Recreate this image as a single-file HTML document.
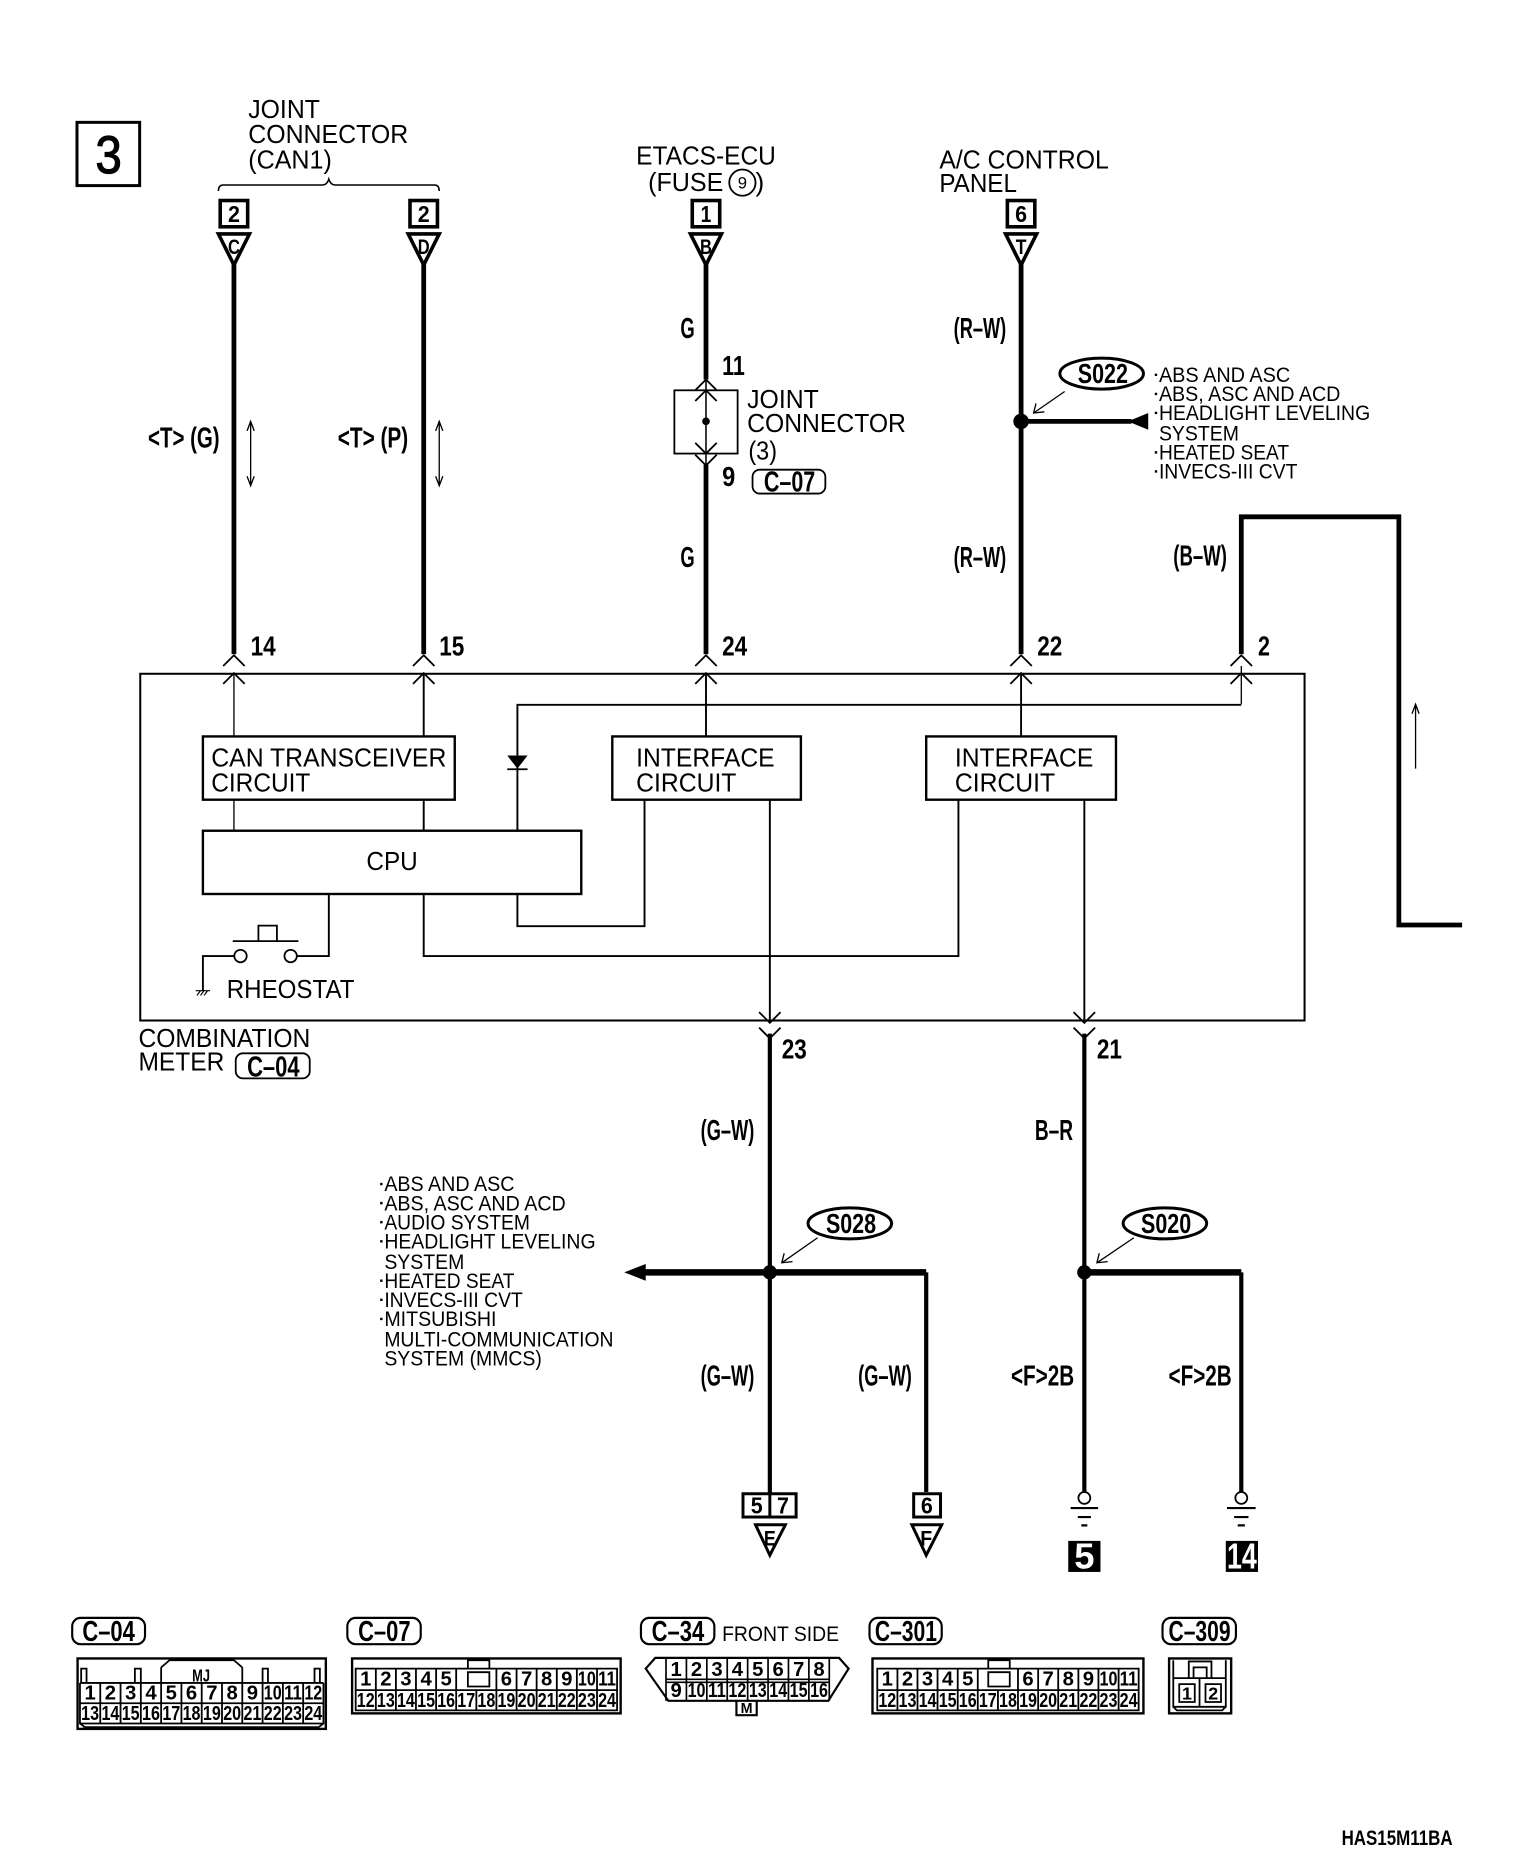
<!DOCTYPE html>
<html><head><meta charset="utf-8"><style>
html,body{margin:0;padding:0;background:#fff}
svg{display:block}
text{font-family:"Liberation Sans",sans-serif;fill:#000}
.r{font-size:22px}
.l{font-size:18px}
.b{font-size:24px;font-weight:bold}
.p{font-size:23px;font-weight:bold}
.n{font-size:18px;font-weight:bold;text-anchor:middle}
.m{font-size:19px;font-weight:bold;text-anchor:middle}
.s{fill:none;stroke:#000}
</style></head><body>
<svg xmlns="http://www.w3.org/2000/svg" width="1520" height="1872" viewBox="0 0 1273.5 1568.4">
<rect width="1280" height="1576" fill="#fff"/>
<rect class="s" x="64.5" y="102.5" width="52.5" height="53" stroke-width="2.5"/>
<text x="91" y="145" font-size="44" text-anchor="middle" textLength="22" lengthAdjust="spacingAndGlyphs" stroke="#000" stroke-width="1">3</text>

<text class="r" x="208" y="99" textLength="60" lengthAdjust="spacingAndGlyphs">JOINT</text>
<text class="r" x="208" y="120" textLength="134" lengthAdjust="spacingAndGlyphs">CONNECTOR</text>
<text class="r" x="208" y="141" textLength="70" lengthAdjust="spacingAndGlyphs">(CAN1)</text>
<path class="s" stroke-width="1.3" d="M183 160Q183 155 187 155H270Q274 155 275.500 150Q277 155 281 155H364Q368 155 368 160"/>

<text class="r" x="533" y="138" textLength="117" lengthAdjust="spacingAndGlyphs">ETACS-ECU</text>
<text class="r" x="543" y="160" textLength="63" lengthAdjust="spacingAndGlyphs">(FUSE</text>
<circle class="s" cx="622" cy="153" r="11" stroke-width="1.5"/>
<text x="622" y="158" font-size="14" text-anchor="middle">9</text>
<text class="r" x="633" y="160">)</text>
<text class="r" x="787" y="141" textLength="142" lengthAdjust="spacingAndGlyphs">A/C CONTROL</text>
<text class="r" x="787" y="161" textLength="65" lengthAdjust="spacingAndGlyphs">PANEL</text>

<!-- top connectors -->
<g class="s" stroke-width="3" fill="none" stroke="#000">
<rect x="184.500" y="168" width="23" height="22"/><rect x="343.500" y="168" width="23" height="22"/>
<rect x="580" y="168" width="23" height="22"/><rect x="844" y="168" width="23" height="22"/>
<path d="M183 196H209L196 222ZM342 196H368L355 222ZM578.500 196H604.500L591.500 222ZM842.500 196H868.500L855.500 222Z"/>
</g>
<text class="m" x="196" y="186" textLength="10" lengthAdjust="spacingAndGlyphs">2</text>
<text class="m" x="355" y="186" textLength="10" lengthAdjust="spacingAndGlyphs">2</text>
<text class="m" x="591.500" y="186" textLength="9" lengthAdjust="spacingAndGlyphs">1</text>
<text class="m" x="855.500" y="186" textLength="10" lengthAdjust="spacingAndGlyphs">6</text>
<text class="n" x="196" y="213" textLength="10" lengthAdjust="spacingAndGlyphs">C</text>
<text class="n" x="355" y="213" textLength="10" lengthAdjust="spacingAndGlyphs">D</text>
<text class="n" x="591.500" y="213" textLength="10" lengthAdjust="spacingAndGlyphs">B</text>
<text class="n" x="855.500" y="213" textLength="9" lengthAdjust="spacingAndGlyphs">T</text>

<!-- thick wires -->
<path class="s" stroke-width="4" d="M196 220V548M355 220V548M591.500 220V318M591.500 388V548M855.500 220V548M1040 548V433H1172V775H1225"/>
<path class="s" stroke-width="3.500" d="M645 866V1251M908.500 866V1250M776 1066V1250M1040 1066V1250"/>
<path class="s" stroke-width="5.500" d="M535 1066H776M908.500 1066H1040"/>
<path class="s" stroke-width="4" d="M855.500 353H948"/>
<path d="M945 353L962 346V360ZM523 1066L541 1059V1073Z"/>
<circle cx="855.500" cy="353" r="6.500"/><circle cx="645" cy="1066" r="6"/><circle cx="908.500" cy="1066" r="6"/>

<!-- chevrons -->
<path class="s" stroke-width="1.500" d="M187 558L196 549L205 558M187 573L196 564L205 573M346 558L355 549L364 558M346 573L355 564L364 573M582.500 558L591.500 549L600.500 558M582.500 573L591.500 564L600.500 573M846.500 558L855.500 549L864.500 558M846.500 573L855.500 564L864.500 573M1031 558L1040 549L1049 558M1031 573L1040 564L1049 573M636 848L645 857L654 848M636 861L645 870L654 861M899.500 848L908.500 857L917.500 848M899.500 861L908.500 870L917.500 861M582.500 327L591.500 318L600.500 327M582.500 336L591.500 327L600.500 336M582.500 371L591.500 380L600.500 371M582.500 381L591.500 390L600.500 381"/>

<!-- pin labels -->
<text class="p" x="210" y="549" textLength="21" lengthAdjust="spacingAndGlyphs">14</text>
<text class="p" x="368" y="549" textLength="21" lengthAdjust="spacingAndGlyphs">15</text>
<text class="p" x="605" y="549" textLength="21" lengthAdjust="spacingAndGlyphs">24</text>
<text class="p" x="869" y="549" textLength="21" lengthAdjust="spacingAndGlyphs">22</text>
<text class="p" x="1054" y="549" textLength="10" lengthAdjust="spacingAndGlyphs">2</text>
<text class="p" x="655" y="887" textLength="21" lengthAdjust="spacingAndGlyphs">23</text>
<text class="p" x="919" y="887" textLength="21" lengthAdjust="spacingAndGlyphs">21</text>
<text class="p" x="605" y="314" textLength="19" lengthAdjust="spacingAndGlyphs">11</text>
<text class="p" x="605" y="407" textLength="11" lengthAdjust="spacingAndGlyphs">9</text>

<!-- wire labels -->
<text class="b" x="124" y="375" textLength="60" lengthAdjust="spacingAndGlyphs">&lt;T&gt; (G)</text>
<text class="b" x="283" y="375" textLength="59" lengthAdjust="spacingAndGlyphs">&lt;T&gt; (P)</text>
<text class="b" x="570" y="283" textLength="12" lengthAdjust="spacingAndGlyphs">G</text>
<text class="b" x="570" y="475" textLength="12" lengthAdjust="spacingAndGlyphs">G</text>
<text class="b" x="799" y="283" textLength="44" lengthAdjust="spacingAndGlyphs">(R–W)</text>
<text class="b" x="799" y="475" textLength="44" lengthAdjust="spacingAndGlyphs">(R–W)</text>
<text class="b" x="983" y="474" textLength="45" lengthAdjust="spacingAndGlyphs">(B–W)</text>
<text class="b" x="587" y="955" textLength="45" lengthAdjust="spacingAndGlyphs">(G–W)</text>
<text class="b" x="867" y="955" textLength="32" lengthAdjust="spacingAndGlyphs">B–R</text>
<text class="b" x="587" y="1161" textLength="45" lengthAdjust="spacingAndGlyphs">(G–W)</text>
<text class="b" x="719" y="1161" textLength="45" lengthAdjust="spacingAndGlyphs">(G–W)</text>
<text class="b" x="847" y="1161" textLength="53" lengthAdjust="spacingAndGlyphs">&lt;F&gt;2B</text>
<text class="b" x="979" y="1161" textLength="53" lengthAdjust="spacingAndGlyphs">&lt;F&gt;2B</text>

<!-- small signal arrows -->
<path class="s" stroke-width="1.100" d="M210 353V407M207 361L210 353L213 361M207 399L210 407L213 399M368 353V407M365 361L368 353L371 361M365 399L368 407L371 399M1186 590V644M1183 598L1186 590L1189 598"/>

<!-- joint connector 3 -->
<rect class="s" x="565" y="327" width="53" height="53" stroke-width="1.500"/>
<path class="s" stroke-width="1.300" d="M591.500 318V388"/>
<circle cx="591.500" cy="353" r="3.200"/>
<text class="r" x="626" y="342" textLength="60" lengthAdjust="spacingAndGlyphs">JOINT</text>
<text class="r" x="626" y="362" textLength="133" lengthAdjust="spacingAndGlyphs">CONNECTOR</text>
<text class="r" x="627" y="385" textLength="24" lengthAdjust="spacingAndGlyphs">(3)</text>
<rect class="s" x="630.500" y="393.500" width="61" height="20" rx="6" stroke-width="1.500"/>
<text class="b" x="640" y="412" textLength="43" lengthAdjust="spacingAndGlyphs">C–07</text>

<!-- splice S022 -->
<ellipse class="s" cx="923" cy="313" rx="35" ry="13" stroke-width="2.500"/>
<text class="p" x="903" y="321" textLength="42" lengthAdjust="spacingAndGlyphs">S022</text>
<path class="s" stroke-width="1.100" d="M892 328L866 346M868 338L866 346L875 345"/>
<g class="l">
<text x="971" y="320" textLength="110" lengthAdjust="spacingAndGlyphs">ABS AND ASC</text>
<text x="971" y="336" textLength="152" lengthAdjust="spacingAndGlyphs">ABS, ASC AND ACD</text>
<text x="971" y="352" textLength="177" lengthAdjust="spacingAndGlyphs">HEADLIGHT LEVELING</text>
<text x="971" y="369" textLength="67" lengthAdjust="spacingAndGlyphs">SYSTEM</text>
<text x="971" y="385" textLength="109" lengthAdjust="spacingAndGlyphs">HEATED SEAT</text>
<text x="971" y="401" textLength="116" lengthAdjust="spacingAndGlyphs">INVECS-III CVT</text>
</g>
<path d="M967.500 313h2v2h-2zM967.500 329h2v2h-2zM967.500 345h2v2h-2zM967.500 378h2v2h-2zM967.500 394h2v2h-2z"/>

<!-- main box -->
<rect class="s" x="117.500" y="564.500" width="975.500" height="290.500" stroke-width="1.700"/>
<path class="s" stroke-width="1.100" d="M196 564V617M196 670V696M1040 558V590"/>
<path class="s" stroke-width="1.600" d="M355 564V617M355 670V696M591.500 564V617M855.500 564V617M1040 590.500H433.500V696M433.500 749V776H540V670M355 749V801H803V670M645 670V855M908.500 670V855M275.500 749V801H249M196 801H170V830"/>
<path d="M425 633H442L433.500 644Z"/>
<path class="s" stroke-width="1.500" d="M425 644.500H442"/>
<g class="s" stroke-width="2" fill="#fff" stroke="#000">
<rect x="170" y="617" width="211" height="53"/>
<rect x="513" y="617" width="158" height="53"/>
<rect x="776" y="617" width="159" height="53"/>
<rect x="170" y="696" width="317" height="53"/>
</g>
<text class="r" x="177" y="642" textLength="197" lengthAdjust="spacingAndGlyphs">CAN TRANSCEIVER</text>
<text class="r" x="177" y="663" textLength="83" lengthAdjust="spacingAndGlyphs">CIRCUIT</text>
<text class="r" x="533" y="642" textLength="116" lengthAdjust="spacingAndGlyphs">INTERFACE</text>
<text class="r" x="533" y="663" textLength="84" lengthAdjust="spacingAndGlyphs">CIRCUIT</text>
<text class="r" x="800" y="642" textLength="116" lengthAdjust="spacingAndGlyphs">INTERFACE</text>
<text class="r" x="800" y="663" textLength="84" lengthAdjust="spacingAndGlyphs">CIRCUIT</text>
<text class="r" x="307" y="729" textLength="43" lengthAdjust="spacingAndGlyphs">CPU</text>

<!-- rheostat -->
<circle class="s" cx="201.500" cy="801" r="5.200" stroke-width="1.500"/>
<circle class="s" cx="243.500" cy="801" r="5.200" stroke-width="1.500"/>
<path class="s" stroke-width="1.500" d="M195 788.500H250M216.500 788V775.500H232V788"/>
<path class="s" stroke-width="1" d="M164 830H176M165 834L168 830M168 834L171 830M171 834L174 830"/>
<text class="r" x="190" y="836" textLength="107" lengthAdjust="spacingAndGlyphs">RHEOSTAT</text>

<text class="r" x="116" y="877" textLength="144" lengthAdjust="spacingAndGlyphs">COMBINATION</text>
<text class="r" x="116" y="897" textLength="72" lengthAdjust="spacingAndGlyphs">METER</text>
<rect class="s" x="197.500" y="882.500" width="62" height="21" rx="6" stroke-width="1.500"/>
<text class="b" x="207" y="902" textLength="44" lengthAdjust="spacingAndGlyphs">C–04</text>

<!-- splices lower -->
<ellipse class="s" cx="712" cy="1025" rx="35" ry="13" stroke-width="2.500"/>
<text class="p" x="692" y="1033" textLength="42" lengthAdjust="spacingAndGlyphs">S028</text>
<ellipse class="s" cx="976" cy="1025" rx="35" ry="13" stroke-width="2.500"/>
<text class="p" x="956" y="1033" textLength="42" lengthAdjust="spacingAndGlyphs">S020</text>
<path class="s" stroke-width="1.100" d="M685 1037L655 1058M657 1050L655 1058L664 1057M950 1037L919 1058M921 1050L919 1058L928 1057"/>
<g class="l">
<text x="322" y="998" textLength="109" lengthAdjust="spacingAndGlyphs">ABS AND ASC</text>
<text x="322" y="1014" textLength="152" lengthAdjust="spacingAndGlyphs">ABS, ASC AND ACD</text>
<text x="322" y="1030" textLength="122" lengthAdjust="spacingAndGlyphs">AUDIO SYSTEM</text>
<text x="322" y="1046" textLength="177" lengthAdjust="spacingAndGlyphs">HEADLIGHT LEVELING</text>
<text x="322" y="1063" textLength="67" lengthAdjust="spacingAndGlyphs">SYSTEM</text>
<text x="322" y="1079" textLength="109" lengthAdjust="spacingAndGlyphs">HEATED SEAT</text>
<text x="322" y="1095" textLength="116" lengthAdjust="spacingAndGlyphs">INVECS-III CVT</text>
<text x="322" y="1111" textLength="94" lengthAdjust="spacingAndGlyphs">MITSUBISHI</text>
<text x="322" y="1128" textLength="192" lengthAdjust="spacingAndGlyphs">MULTI-COMMUNICATION</text>
<text x="322" y="1144" textLength="132" lengthAdjust="spacingAndGlyphs">SYSTEM (MMCS)</text>
</g>
<path d="M318.500 991h2v2h-2zM318.500 1007h2v2h-2zM318.500 1023h2v2h-2zM318.500 1039h2v2h-2zM318.500 1072h2v2h-2zM318.500 1088h2v2h-2zM318.500 1104h2v2h-2z"/>

<!-- bottom terminals -->
<g class="s" stroke-width="2.500" fill="none" stroke="#000">
<rect x="622.500" y="1251.500" width="44.500" height="19.500"/>
<path d="M645 1251V1271"/>
<rect x="765.500" y="1251.500" width="22.500" height="19.500"/>
<path d="M633 1277.500H658L645 1303ZM764 1277.500H789L776 1303Z"/>
</g>
<text class="m" x="634" y="1268" textLength="10" lengthAdjust="spacingAndGlyphs">5</text>
<text class="m" x="656" y="1268" textLength="10" lengthAdjust="spacingAndGlyphs">7</text>
<text class="m" x="776.500" y="1268" textLength="10" lengthAdjust="spacingAndGlyphs">6</text>
<text class="n" x="645" y="1295" textLength="10" lengthAdjust="spacingAndGlyphs">E</text>
<text class="n" x="776" y="1295" textLength="10" lengthAdjust="spacingAndGlyphs">F</text>

<circle class="s" cx="908.500" cy="1255" r="5" stroke-width="1.500" style="fill:#fff"/>
<circle class="s" cx="1040" cy="1255" r="5" stroke-width="1.500" style="fill:#fff"/>
<path class="s" stroke-width="1.800" d="M897 1263.500H920M903 1271H914M906 1278H911M1028 1263.500H1052M1034 1271H1046M1037 1278H1043"/>
<rect x="895" y="1291" width="27" height="26"/>
<rect x="1027" y="1291" width="27" height="26"/>
<text x="908.500" y="1314" font-size="30" font-weight="bold" text-anchor="middle" style="fill:#fff" textLength="17" lengthAdjust="spacingAndGlyphs">5</text>
<text x="1040.500" y="1314" font-size="30" font-weight="bold" text-anchor="middle" style="fill:#fff" textLength="25" lengthAdjust="spacingAndGlyphs">14</text>

<!-- connector tags -->
<g class="s" stroke-width="1.800" fill="none" stroke="#000">
<rect x="60.500" y="1355.500" width="61" height="22" rx="7"/>
<rect x="291" y="1355.500" width="61.500" height="22" rx="7"/>
<rect x="537" y="1355.500" width="61.500" height="22" rx="7"/>
<rect x="728.500" y="1355.500" width="60.500" height="22" rx="7"/>
<rect x="974" y="1355.500" width="61.500" height="22" rx="7"/>
</g>
<text class="b" x="69" y="1375" textLength="44" lengthAdjust="spacingAndGlyphs">C–04</text>
<text class="b" x="300" y="1375" textLength="44" lengthAdjust="spacingAndGlyphs">C–07</text>
<text class="b" x="546" y="1375" textLength="44" lengthAdjust="spacingAndGlyphs">C–34</text>
<text class="b" x="733" y="1375" textLength="52" lengthAdjust="spacingAndGlyphs">C–301</text>
<text class="b" x="979" y="1375" textLength="52" lengthAdjust="spacingAndGlyphs">C–309</text>
<text x="605" y="1375" font-size="18" textLength="98" lengthAdjust="spacingAndGlyphs">FRONT SIDE</text>

<!-- C-04 connector -->
<rect class="s" x="65" y="1389.500" width="208" height="59" stroke-width="2"/>
<path class="s" stroke-width="1.500" d="M67 1427H271M67 1444H271M67 1410H271M67 1410V1444L71 1447H267L271 1444V1410M84 1410V1444M101 1410V1444M118 1410V1444M135 1397V1444M152 1410V1444M169 1410V1444M186 1410V1444M203 1397V1444M220 1410V1444M237 1410V1444M254 1410V1444M135 1397L142 1391H196L203 1397M68 1410V1398H72.500V1410M113 1410V1398H118V1410M220 1410V1398H224.500V1410M263.500 1410V1398H268V1410"/>
<g class="m" style="font-size:17px">
<text class="n" x="168.500" y="1409" textLength="15" lengthAdjust="spacingAndGlyphs" style="font-size:15px">MJ</text>
<text x="75.500" y="1424">1</text><text x="92.500" y="1424">2</text><text x="109.500" y="1424">3</text><text x="126.500" y="1424">4</text><text x="143.500" y="1424">5</text><text x="160.500" y="1424">6</text><text x="177.500" y="1424">7</text><text x="194.500" y="1424">8</text><text x="211.500" y="1424">9</text><text x="228.500" y="1424" textLength="15" lengthAdjust="spacingAndGlyphs">10</text><text x="245.500" y="1424" textLength="15" lengthAdjust="spacingAndGlyphs">11</text><text x="262.500" y="1424" textLength="15" lengthAdjust="spacingAndGlyphs">12</text>
<text x="75.500" y="1441" textLength="15" lengthAdjust="spacingAndGlyphs">13</text><text x="92.500" y="1441" textLength="15" lengthAdjust="spacingAndGlyphs">14</text><text x="109.500" y="1441" textLength="15" lengthAdjust="spacingAndGlyphs">15</text><text x="126.500" y="1441" textLength="15" lengthAdjust="spacingAndGlyphs">16</text><text x="143.500" y="1441" textLength="15" lengthAdjust="spacingAndGlyphs">17</text><text x="160.500" y="1441" textLength="15" lengthAdjust="spacingAndGlyphs">18</text><text x="177.500" y="1441" textLength="15" lengthAdjust="spacingAndGlyphs">19</text><text x="194.500" y="1441" textLength="15" lengthAdjust="spacingAndGlyphs">20</text><text x="211.500" y="1441" textLength="15" lengthAdjust="spacingAndGlyphs">21</text><text x="228.500" y="1441" textLength="15" lengthAdjust="spacingAndGlyphs">22</text><text x="245.500" y="1441" textLength="15" lengthAdjust="spacingAndGlyphs">23</text><text x="262.500" y="1441" textLength="15" lengthAdjust="spacingAndGlyphs">24</text>
</g>

<!-- C-07 connector -->
<rect class="s" x="295" y="1389.500" width="225" height="46" stroke-width="2"/>
<path class="s" stroke-width="1.500" d="M298 1398H517V1433H298ZM298 1416H517M314.900 1398V1433M331.700 1398V1433M348.500 1398V1433M365.400 1398V1433M382.200 1398V1433M399.100 1416V1433M415.900 1398V1433M432.800 1398V1433M449.600 1398V1433M466.500 1398V1433M483.300 1398V1433M500.200 1398V1433M392 1398V1391H410V1398M392 1401H410V1413H392Z"/>
<g class="m" style="font-size:17px">
<text x="306.400" y="1412">1</text><text x="323.300" y="1412">2</text><text x="340.100" y="1412">3</text><text x="357" y="1412">4</text><text x="373.800" y="1412">5</text><text x="424.300" y="1412">6</text><text x="441.200" y="1412">7</text><text x="458" y="1412">8</text><text x="474.900" y="1412">9</text><text x="491.700" y="1412" textLength="15" lengthAdjust="spacingAndGlyphs">10</text><text x="508.600" y="1412" textLength="15" lengthAdjust="spacingAndGlyphs">11</text>
<text x="306.400" y="1430" textLength="15" lengthAdjust="spacingAndGlyphs">12</text><text x="323.300" y="1430" textLength="15" lengthAdjust="spacingAndGlyphs">13</text><text x="340.100" y="1430" textLength="15" lengthAdjust="spacingAndGlyphs">14</text><text x="357" y="1430" textLength="15" lengthAdjust="spacingAndGlyphs">15</text><text x="373.800" y="1430" textLength="15" lengthAdjust="spacingAndGlyphs">16</text><text x="390.600" y="1430" textLength="15" lengthAdjust="spacingAndGlyphs">17</text><text x="407.500" y="1430" textLength="15" lengthAdjust="spacingAndGlyphs">18</text><text x="424.300" y="1430" textLength="15" lengthAdjust="spacingAndGlyphs">19</text><text x="441.200" y="1430" textLength="15" lengthAdjust="spacingAndGlyphs">20</text><text x="458" y="1430" textLength="15" lengthAdjust="spacingAndGlyphs">21</text><text x="474.900" y="1430" textLength="15" lengthAdjust="spacingAndGlyphs">22</text><text x="491.700" y="1430" textLength="15" lengthAdjust="spacingAndGlyphs">23</text><text x="508.600" y="1430" textLength="15" lengthAdjust="spacingAndGlyphs">24</text>
</g>

<!-- C-34 connector -->
<path class="s" stroke-width="1.800" d="M549 1389H703L711 1398L694 1425H560L541 1398ZM617 1425V1437H634V1425"/>
<path class="s" stroke-width="1.400" d="M558 1389V1425M575.100 1389V1425M592.200 1389V1425M609.300 1389V1425M626.400 1389V1425M643.500 1389V1425M660.600 1389V1425M677.700 1389V1425M694.800 1389V1425M558 1407H695M558 1409.500H695"/>
<text class="n" x="625.500" y="1435" style="font-size:12px">M</text>
<g class="m" style="font-size:17px">
<text x="566.500" y="1404">1</text><text x="583.600" y="1404">2</text><text x="600.700" y="1404">3</text><text x="617.800" y="1404">4</text><text x="634.900" y="1404">5</text><text x="652" y="1404">6</text><text x="669.100" y="1404">7</text><text x="686.200" y="1404">8</text>
<text x="566.500" y="1422">9</text><text x="583.600" y="1422" textLength="15" lengthAdjust="spacingAndGlyphs">10</text><text x="600.700" y="1422" textLength="15" lengthAdjust="spacingAndGlyphs">11</text><text x="617.800" y="1422" textLength="15" lengthAdjust="spacingAndGlyphs">12</text><text x="634.900" y="1422" textLength="15" lengthAdjust="spacingAndGlyphs">13</text><text x="652" y="1422" textLength="15" lengthAdjust="spacingAndGlyphs">14</text><text x="669.100" y="1422" textLength="15" lengthAdjust="spacingAndGlyphs">15</text><text x="686.200" y="1422" textLength="15" lengthAdjust="spacingAndGlyphs">16</text>
</g>

<!-- C-301 connector -->
<rect class="s" x="731" y="1389.500" width="227" height="46" stroke-width="2"/>
<path class="s" stroke-width="1.500" d="M735 1398H954V1433H735ZM735 1416H954M751.900 1398V1433M768.700 1398V1433M785.500 1398V1433M802.400 1398V1433M819.200 1398V1433M836.100 1416V1433M852.900 1398V1433M869.800 1398V1433M886.600 1398V1433M903.500 1398V1433M920.300 1398V1433M937.200 1398V1433M828 1398V1391H846V1398M828 1401H846V1413H828Z"/>
<g class="m" style="font-size:17px">
<text x="743.400" y="1412">1</text><text x="760.300" y="1412">2</text><text x="777.100" y="1412">3</text><text x="794" y="1412">4</text><text x="810.800" y="1412">5</text><text x="861.300" y="1412">6</text><text x="878.200" y="1412">7</text><text x="895" y="1412">8</text><text x="911.900" y="1412">9</text><text x="928.700" y="1412" textLength="15" lengthAdjust="spacingAndGlyphs">10</text><text x="945.600" y="1412" textLength="15" lengthAdjust="spacingAndGlyphs">11</text>
<text x="743.400" y="1430" textLength="15" lengthAdjust="spacingAndGlyphs">12</text><text x="760.300" y="1430" textLength="15" lengthAdjust="spacingAndGlyphs">13</text><text x="777.100" y="1430" textLength="15" lengthAdjust="spacingAndGlyphs">14</text><text x="794" y="1430" textLength="15" lengthAdjust="spacingAndGlyphs">15</text><text x="810.800" y="1430" textLength="15" lengthAdjust="spacingAndGlyphs">16</text><text x="827.600" y="1430" textLength="15" lengthAdjust="spacingAndGlyphs">17</text><text x="844.500" y="1430" textLength="15" lengthAdjust="spacingAndGlyphs">18</text><text x="861.300" y="1430" textLength="15" lengthAdjust="spacingAndGlyphs">19</text><text x="878.200" y="1430" textLength="15" lengthAdjust="spacingAndGlyphs">20</text><text x="895" y="1430" textLength="15" lengthAdjust="spacingAndGlyphs">21</text><text x="911.900" y="1430" textLength="15" lengthAdjust="spacingAndGlyphs">22</text><text x="928.700" y="1430" textLength="15" lengthAdjust="spacingAndGlyphs">23</text><text x="945.600" y="1430" textLength="15" lengthAdjust="spacingAndGlyphs">24</text>
</g>

<!-- C-309 connector -->
<rect class="s" x="979.500" y="1389.500" width="52" height="46" stroke-width="2"/>
<path class="s" stroke-width="1.500" d="M983 1406H1005V1430H983ZM1005 1406H1027V1430H1005ZM988 1411H1001V1426H988ZM1010 1411H1023V1426H1010ZM983 1391V1406M1027 1391V1406M996 1406V1392H1015V1406M1000 1406V1397H1011V1406M983 1430L986 1433H1024L1027 1430"/>
<text class="m" x="994.500" y="1424" style="font-size:15px">1</text>
<text class="m" x="1016.500" y="1424" style="font-size:15px">2</text>

<text x="1124" y="1546" font-size="18" font-weight="bold" textLength="93" lengthAdjust="spacingAndGlyphs">HAS15M11BA</text>
</svg>
</body></html>
